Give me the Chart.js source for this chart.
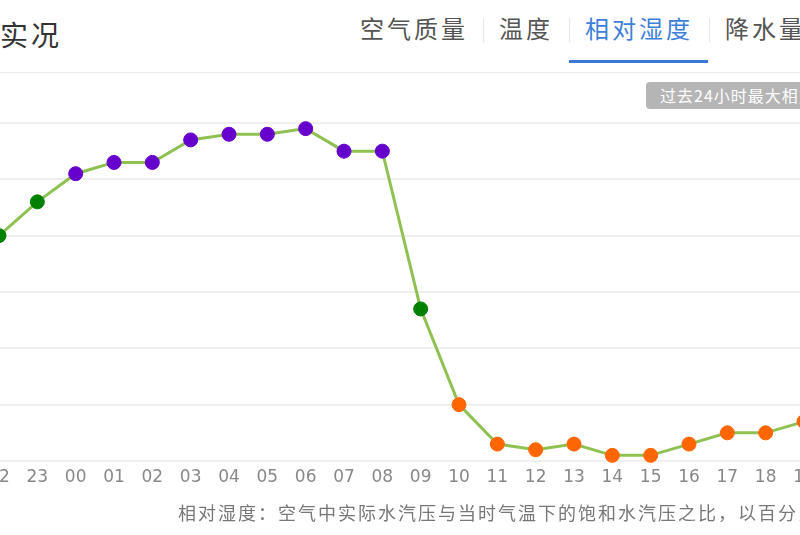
<!DOCTYPE html>
<html>
<head>
<meta charset="utf-8">
<script src="https://cdn.jsdelivr.net/npm/chart.js@4"></script>
<style>
    body { margin: 0; width: 800px; height: 535px; overflow: hidden; position: relative; background: #fff; font-family: "Noto Sans CJK SC", "Noto Sans", sans-serif; }
    .title { position: absolute; left: 0; top: 14px; font-size: 28px; letter-spacing: 3px; color: #333; line-height: 40px; }
    .tab { position: absolute; top: 0; font-size: 24px; letter-spacing: 3px; color: #555; line-height: 40px; white-space: nowrap; }
    .tab.active { color: #3d7fd9; }
    .sep { position: absolute; top: 10px; width: 1px; height: 24px; background: #e6e6e6; }
    .underline { position: absolute; left: 569px; top: 60px; width: 139px; height: 3px; background: #3a78d8; }
    .hr { position: absolute; left: 0; top: 72px; width: 800px; height: 1px; background: #e9e9e9; }
    .badge { position: absolute; left: 646px; top: 82px; width: 200px; height: 27px; background: #b5b5b5; border-radius: 4px; color: #fff; font-size: 16px; letter-spacing: 1px; line-height: 27px; padding-left: 14px; white-space: nowrap; box-sizing: border-box; }
    .note { position: absolute; left: 178px; top: 499px; font-size: 18px; letter-spacing: 2px; color: #777; white-space: nowrap; line-height: 26px; }
    #chart-item { position: absolute; left: -40px; top: 90px; }
</style>
</head>
<body>
<div class="title">实况</div>
<div class="tab" style="left:360px;top:8px">空气质量</div>
<div class="sep" style="left:483px;top:18px"></div>
<div class="tab" style="left:499px;top:8px">温度</div>
<div class="sep" style="left:569px;top:18px"></div>
<div class="tab active" style="left:585px;top:8px">相对湿度</div>
<div class="sep" style="left:709px;top:18px"></div>
<div class="tab" style="left:725px;top:8px">降水量</div>
<div class="underline"></div>
<div class="hr"></div>
<div class="badge">过去24小时最大相对湿度</div>
<canvas id="chart-item" width="880" height="420"></canvas>
<div class="note">相对湿度：空气中实际水汽压与当时气温下的饱和水汽压之比，以百分比表示</div>

<script>
// Chart Section

var hours = ['22', '23', '00', '01', '02', '03', '04', '05', '06', '07', '08', '09', '10', '11', '12', '13', '14', '15', '16', '17', '18', '19']
var humidity = [70, 76, 81, 83, 83, 87, 88, 88, 89, 85, 85, 57, 40, 33, 32, 33, 31, 31, 33, 35, 35, 37]
var yTicks = [30, 40, 50, 60, 70, 80, 90]

function pointColor(v) {
    if (v >= 80) return '#6600cc'
    if (v >= 50) return '#008000'
    return '#ff6600'
}

var colors = humidity.map(pointColor)

const ctx = document.getElementById('chart-item').getContext('2d');
const myChart = new Chart(ctx, {
    type: 'line',
    data: {
        labels: hours,
        datasets: [{
            data: humidity,
            borderColor: '#8fc152',
            borderWidth: 3,
            pointBackgroundColor: colors,
            pointBorderColor: colors,
            pointBorderWidth: 1,
            pointRadius: 7,
            tension: 0,
            clip: false
        }]
    },
    options: {
        responsive: false,
        animation: false,
        devicePixelRatio: 1,
        layout: {
            padding: { left: 39, right: 36, top: 33, bottom: 9 }
        },
        plugins: {
            legend: { display: false },
            tooltip: { enabled: false }
        },
        scales: {
            x: {
                grid: { display: false, drawTicks: false },
                border: { display: false },
                ticks: {
                    autoSkip: false,
                    maxRotation: 0,
                    padding: 6,
                    color: '#888',
                    font: { family: 'DejaVu Sans', size: 17 }
                },
                afterFit: function (scale) { scale.height = 40 }
            },
            y: {
                min: yTicks[0],
                max: yTicks[yTicks.length - 1],
                afterBuildTicks: function (scale) {
                    scale.ticks = yTicks.map(function (v) { return { value: v } })
                },
                grid: { color: '#efefef', lineWidth: 2, drawTicks: false },
                border: { display: false },
                ticks: { display: false },
                afterFit: function (scale) { scale.width = 0 }
            }
        }
    }
});
</script>
</body>
</html>
